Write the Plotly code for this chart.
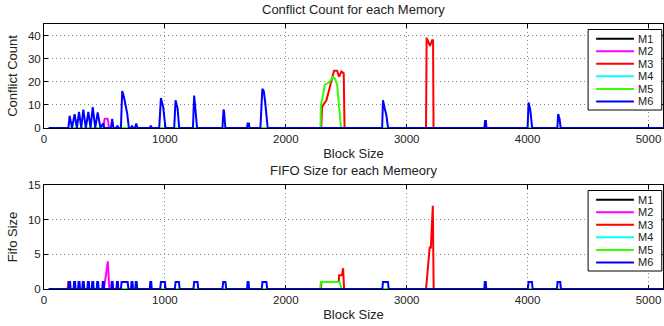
import plotly.graph_objects as go

# ---------------- data ----------------
SERIES = ["M1", "M2", "M3", "M4", "M5", "M6"]
COLORS = ["#000000", "#ff00ff", "#ff0000", "#00ffff", "#33ff00", "#0000ff"]

X_TICKS = [0, 1000, 2000, 3000, 4000, 5000]
CONFLICT_TICKS = [0, 10, 20, 30, 40]
FIFO_TICKS = [0, 5, 10, 15]

# Conflict count per memory (block size, count)
conf_m1_x = [40, 5120]
conf_m1_y = [0, 0]
conf_m2_x = [40, 492, 498, 503, 526, 531, 537, 5120]
conf_m2_y = [0, 0, 3, 4, 4, 3, 0, 0]
conf_m3_x = [40, 2293, 2300, 2309, 2336, 2364, 2399, 2424, 2441, 2460, 2479, 2486,
             3160, 3165, 3178, 3193, 3210, 3218, 3222, 5120]
conf_m3_y = [0, 0, 9, 10, 12, 18, 24.8, 24.8, 22.2, 24.4, 23.7, 0,
             0, 39, 37.5, 35.5, 38, 38, 0, 0]
conf_m4_x = [40, 5120]
conf_m4_y = [0, 0]
conf_m5_x = [40, 2287, 2290, 2300, 2322, 2345, 2364, 2386, 2405, 2424, 2457, 5120]
conf_m5_y = [0, 0, 10, 12, 18.6, 19.3, 20, 22, 21.5, 19, 0, 0]
conf_m6_x = [40, 202, 212, 232, 253, 272, 290, 308, 325, 346, 367, 385, 403, 424, 444, 467,
             490, 498, 554, 564, 574, 598, 607, 616, 636, 647, 661, 675, 689, 702, 720, 728,
             736, 753, 763, 773, 875, 883, 891, 953, 967, 986, 996, 1005, 1077, 1088, 1105,
             1118, 1232, 1242, 1256, 1266, 1476, 1485, 1490, 1500, 1680, 1684, 1694, 1700,
             1790, 1806, 1818, 1830, 1850, 2797, 2804, 2818, 2832, 2846, 3643, 3648, 3655,
             3660, 4000, 4008, 4022, 4038, 4246, 4253, 4264, 4274, 5120]
conf_m6_y = [0, 0, 5.3, 0, 6, 0, 7, 0, 8, 0, 7, 0, 9, 0, 6.8, 0,
             2, 0, 0, 4, 0, 0, 1, 0, 0, 16, 13.5, 9.5, 6, 0, 0, 1,
             0, 0, 2, 0, 0, 1, 0, 0, 13, 9, 4, 0, 0, 12, 8.5,
             0, 0, 14, 6, 0, 0, 8, 7, 0, 0, 2, 2, 0,
             0, 17, 16, 11, 0, 0, 12, 8.5, 5.5, 0, 0, 3, 3,
             0, 0, 11, 7.8, 0, 0, 6, 4, 0, 0]

# FIFO size per memory (block size, size)
fifo_m1_x = [40, 5120]
fifo_m1_y = [0, 0]
fifo_m2_x = [40, 495, 504, 512, 528, 540, 5120]
fifo_m2_y = [0, 0, 1, 2, 4, 0, 0]
fifo_m3_x = [40, 196, 201, 207, 212, 2290, 2295, 2438, 2441, 2465, 2474, 2482,
             3160, 3168, 3190, 3200, 3212, 3216, 3223, 5120]
fifo_m3_y = [0, 0, 1, 1, 0, 0, 1, 1, 2, 2, 3, 0,
             0, 2, 6, 6, 12, 12, 0, 0]
fifo_m4_x = [40, 5120]
fifo_m4_y = [0, 0]
fifo_m5_x = [40, 2285, 2290, 2446, 2460, 5120]
fifo_m5_y = [0, 0, 1, 1, 0, 0]
fifo_m6_x = [40,
             204, 208, 216, 220, 245, 249, 257, 261, 282, 286, 294, 298, 317, 321, 329, 333,
             359, 363, 371, 375, 395, 399, 407, 411, 436, 440, 448, 452, 482, 486, 494, 498,
             556, 560, 568, 572, 599, 603, 611, 615, 636, 642, 692, 698, 720, 724, 732, 736,
             755, 759, 767, 771, 875, 879, 887, 891, 961, 967, 1000, 1006, 1082, 1088, 1116, 1122,
             1236, 1242, 1270, 1276, 1476, 1482, 1501, 1507, 1680, 1684, 1692, 1696,
             1801, 1807, 1840, 1846, 2798, 2804, 2845, 2851, 3642, 3646, 3654, 3658,
             4002, 4008, 4036, 4042, 4242, 4248, 4270, 4276,
             5120]
fifo_m6_y = [0,
             0, 1, 1, 0, 0, 1, 1, 0, 0, 1, 1, 0, 0, 1, 1, 0,
             0, 1, 1, 0, 0, 1, 1, 0, 0, 1, 1, 0, 0, 1, 1, 0,
             0, 1, 1, 0, 0, 1, 1, 0, 0, 1, 1, 0, 0, 1, 1, 0,
             0, 1, 1, 0, 0, 1, 1, 0, 0, 1, 1, 0, 0, 1, 1, 0,
             0, 1, 1, 0, 0, 1, 1, 0, 0, 1, 1, 0,
             0, 1, 1, 0, 0, 1, 1, 0, 0, 1, 1, 0,
             0, 1, 1, 0, 0, 1, 1, 0,
             0]

CONFLICT = [(conf_m1_x, conf_m1_y), (conf_m2_x, conf_m2_y), (conf_m3_x, conf_m3_y),
            (conf_m4_x, conf_m4_y), (conf_m5_x, conf_m5_y), (conf_m6_x, conf_m6_y)]
FIFO = [(fifo_m1_x, fifo_m1_y), (fifo_m2_x, fifo_m2_y), (fifo_m3_x, fifo_m3_y),
        (fifo_m4_x, fifo_m4_y), (fifo_m5_x, fifo_m5_y), (fifo_m6_x, fifo_m6_y)]

# ---------------- figure ----------------
FONT = "Liberation Sans, Arial, Helvetica, sans-serif"
fig = go.Figure()

for name, color, (xs, ys) in zip(SERIES, COLORS, CONFLICT):
    assert len(xs) == len(ys), name
    fig.add_trace(go.Scatter(x=xs, y=ys, mode="lines", name=name,
                             line=dict(color=color, width=2), xaxis="x", yaxis="y"))
for name, color, (xs, ys) in zip(SERIES, COLORS, FIFO):
    assert len(xs) == len(ys), name
    fig.add_trace(go.Scatter(x=xs, y=ys, mode="lines", name=name,
                             line=dict(color=color, width=2), xaxis="x2", yaxis="y2"))

axis_common = dict(showline=True, linecolor="black", linewidth=1, mirror="allticks",
                   ticks="inside", ticklen=4, tickcolor="black", showgrid=True,
                   gridcolor="#888888", griddash="1px,3px", gridwidth=1, zeroline=False,
                   layer="below traces", tickfont=dict(size=11.5, family=FONT, color="#222"))
TITLE_FONT = dict(size=13, family=FONT, color="#222")

fig.update_layout(
    width=664, height=326,
    margin=dict(l=44, r=1, t=24, b=37),
    plot_bgcolor="white", paper_bgcolor="white",
    font=dict(family=FONT, size=12, color="#222"),
    showlegend=False,
    xaxis=dict(domain=[0, 1], anchor="y", range=[0, 5120], tickvals=X_TICKS,
               title=dict(text="Block Size", standoff=5, font=TITLE_FONT), **axis_common),
    yaxis=dict(domain=[0.6075, 1], anchor="x", range=[0, 45], tickvals=CONFLICT_TICKS,
               title=dict(text="Conflict Count", standoff=7, font=TITLE_FONT), **axis_common),
    xaxis2=dict(domain=[0, 1], anchor="y2", range=[0, 5120], tickvals=X_TICKS,
                title=dict(text="Block Size", standoff=5, font=TITLE_FONT), **axis_common),
    yaxis2=dict(domain=[0, 0.3925], anchor="x2", range=[0, 15], tickvals=FIFO_TICKS,
                title=dict(text="Fifo Size", standoff=7, font=TITLE_FONT), **axis_common),
)

# subplot titles
fig.add_annotation(text="Conflict Count for each Memory", xref="paper", yref="paper",
                   x=0.5, y=1.053, showarrow=False, xanchor="center", yanchor="middle",
                   font=dict(size=13, family=FONT, color="#222"))
fig.add_annotation(text="FIFO Size for each Memeory", xref="paper", yref="paper",
                   x=0.5, y=0.446, showarrow=False, xanchor="center", yanchor="middle",
                   font=dict(size=13, family=FONT, color="#222"))

# legends (drawn as box + sample lines + labels in each subplot)
for xr, yr in [("x domain", "y domain"), ("x2 domain", "y2 domain")]:
    fig.add_shape(type="rect", xref=xr, yref=yr, x0=0.879, x1=0.998, y0=0.173, y1=0.947,
                  line=dict(color="black", width=1), fillcolor="white", layer="above")
    for i, (name, color) in enumerate(zip(SERIES, COLORS)):
        yy = 0.858 - i * 0.1205
        fig.add_shape(type="line", xref=xr, yref=yr, x0=0.892, x1=0.953, y0=yy, y1=yy,
                      line=dict(color=color, width=2), layer="above")
        fig.add_annotation(text=name, xref=xr, yref=yr, x=0.957, y=yy, showarrow=False,
                           xanchor="left", yanchor="middle",
                           font=dict(size=11, family=FONT, color="#222"))

fig.write_html("out.html")
